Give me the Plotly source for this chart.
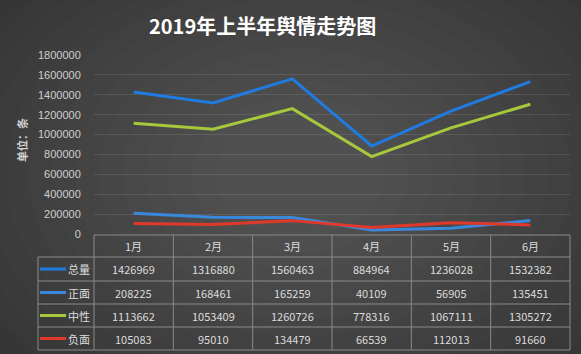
import plotly.graph_objects as go

months = ["1月", "2月", "3月", "4月", "5月", "6月"]
series_names = ["总量", "正面", "中性", "负面"]
total = [1426969, 1316880, 1560463, 884964, 1236028, 1532382]
positive = [208225, 168461, 165259, 40109, 56905, 135451]
neutral = [1113662, 1053409, 1260726, 778316, 1067111, 1305272]
negative = [105083, 95010, 134479, 66539, 112013, 91660]
y_ticks = [0, 200000, 400000, 600000, 800000, 1000000, 1200000, 1400000, 1600000, 1800000]

series_values = [total, positive, neutral, negative]
colors = ["#1f7be0", "#3a88dc", "#a6c83a", "#e0392b"]

W, H = 581, 354
L, R, T, B = 94, 570, 55, 234

def px(p):
    return (p - L) / (R - L)

def py(p):
    return (B - p) / (B - T)

fig = go.Figure()
for name, vals, c in zip(series_names, series_values, colors):
    fig.add_trace(go.Scatter(x=months, y=vals, mode="lines", name=name,
                             line=dict(color=c, width=3), showlegend=False))

shapes = []
cx, cy = 300, 175
for k in range(20):
    s = 1.25 - k * 0.055
    rx, ry = 420 * s, 300 * s
    shapes.append(dict(type="circle", xref="paper", yref="paper",
                       x0=px(cx - rx), x1=px(cx + rx), y0=py(cy + ry), y1=py(cy - ry),
                       fillcolor="rgba(255,255,255,0.011)", line=dict(width=0), layer="below"))

rows = [235, 257, 281, 304, 327, 350]
grid = dict(color="#8a8a8a", width=1)
n = len(months)
shapes.append(dict(type="line", xref="paper", yref="paper", x0=0, x1=1, y0=py(rows[0]), y1=py(rows[0]), line=grid))
for r in rows[1:]:
    shapes.append(dict(type="line", xref="paper", yref="paper", x0=px(38), x1=1, y0=py(r), y1=py(r), line=grid))
for i in range(n + 1):
    shapes.append(dict(type="line", xref="paper", yref="paper", x0=i / n, x1=i / n,
                       y0=py(rows[0]), y1=py(rows[-1]), line=grid))
shapes.append(dict(type="line", xref="paper", yref="paper", x0=px(38), x1=px(38),
                   y0=py(rows[1]), y1=py(rows[-1]), line=grid))

annotations = []
tfont = dict(family="Noto Sans CJK SC", size=11, color="#dcdcdc")
ann = dict(xref="paper", yref="paper", showarrow=False, xanchor="center", yanchor="middle")
for i, m in enumerate(months):
    annotations.append(dict(ann, x=(i + 0.5) / n, y=py((rows[0] + rows[1]) / 2), text=m, font=tfont))
for j, (name, vals, c) in enumerate(zip(series_names, series_values, colors)):
    yc = py((rows[j + 1] + rows[j + 2]) / 2)
    shapes.append(dict(type="line", xref="paper", yref="paper", x0=px(40), x1=px(66),
                       y0=yc, y1=yc, line=dict(color=c, width=3)))
    annotations.append(dict(ann, x=px(79), y=yc, text=name, font=tfont))
    for i, v in enumerate(vals):
        annotations.append(dict(ann, x=(i + 0.5) / n, y=yc, text=str(v), font=tfont))

annotations.append(dict(ann, x=px(22), y=py(140), text="<b>单位：条</b>", textangle=-90,
                        font=dict(family="Noto Sans CJK SC", size=11, color="#d0d0d0")))
annotations.append(dict(ann, x=px(262), y=py(25), text="<b>2019年上半年舆情走势图</b>",
                        font=dict(family="Noto Sans CJK SC", size=20, color="#ffffff")))

fig.update_layout(
    width=W, height=H,
    margin=dict(l=L, r=W - R, t=T, b=H - B),
    paper_bgcolor="#282828", plot_bgcolor="rgba(0,0,0,0)",
    xaxis=dict(visible=False, range=[-0.5, 5.5], type="category"),
    yaxis=dict(range=[0, 1800000], tickvals=y_ticks, ticktext=[str(v) for v in y_ticks],
               showgrid=True, gridcolor="rgba(255,255,255,0.10)", gridwidth=1,
               zeroline=False, showline=False, ticks="outside", ticklen=10,
               tickcolor="rgba(0,0,0,0)",
               tickfont=dict(family="Liberation Sans", size=11, color="#cfcfcf")),
    shapes=shapes, annotations=annotations,
)
fig.write_html("out.html")
